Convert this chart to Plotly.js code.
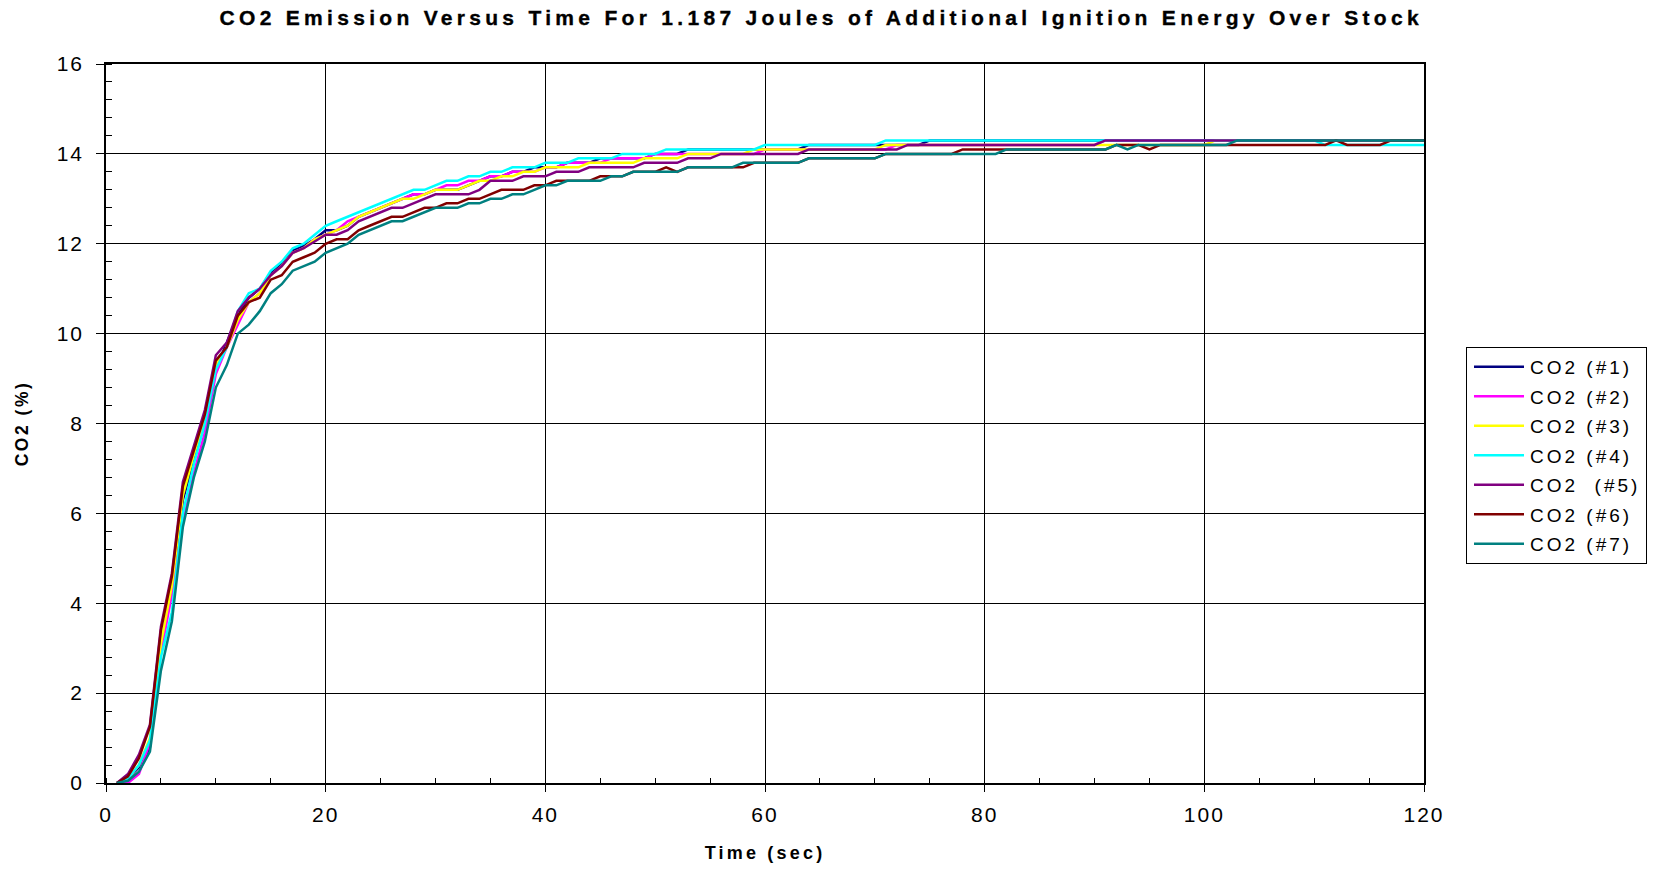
<!DOCTYPE html>
<html>
<head>
<meta charset="utf-8">
<script src="https://cdn.plot.ly/plotly-3.0.1.min.js"></script>
<style>
  html, body { margin: 0; padding: 0; background: #fff; }
  #chart { width: 1654px; height: 869px; }
  text.gtitle { letter-spacing: 4.3px; stroke: #000; stroke-width: 0.35px; }
  text.legendtext { letter-spacing: 3px; }
  text.xtitle { letter-spacing: 3.2px; }
  text.ytitle { letter-spacing: 2.5px; }
  .xtick text, .ytick text { letter-spacing: 2px; }
</style>
</head>
<body>
<div id="chart"></div>
<script>
// time in seconds (1 s sampling)
const time = Array.from({length: 120}, (_, i) => i + 1);

const seriesNames = ['CO2 (#1)', 'CO2 (#2)', 'CO2 (#3)', 'CO2 (#4)', 'CO2 \u00a0(#5)', 'CO2 (#6)', 'CO2 (#7)'];
const seriesColors = ['#000080', '#FF00FF', '#FFFF00', '#00FFFF', '#800080', '#800000', '#008080'];

const co2_1 = [
  0, 0.1, 0.35, 0.8, 3.0, 4.3, 6.3, 7.2, 8.0, 9.2,
  9.8, 10.4, 10.8, 11.0, 11.35, 11.55, 11.85, 11.95, 12.1, 12.3,
  12.3, 12.4, 12.6, 12.7, 12.8, 12.9, 13.0, 13.1, 13.1, 13.2,
  13.2, 13.2, 13.3, 13.4, 13.5, 13.5, 13.6, 13.6, 13.7, 13.7,
  13.7, 13.8, 13.8, 13.8, 13.9, 13.9, 13.9, 13.9, 13.9, 14.0,
  14.0, 14.0, 14.1, 14.1, 14.1, 14.1, 14.1, 14.1, 14.1, 14.1,
  14.1, 14.1, 14.1, 14.2, 14.2, 14.2, 14.2, 14.2, 14.2, 14.2,
  14.2, 14.2, 14.2, 14.2, 14.3, 14.3, 14.3, 14.3, 14.3, 14.3,
  14.3, 14.3, 14.3, 14.3, 14.3, 14.3, 14.3, 14.3, 14.3, 14.3,
  14.3, 14.3, 14.3, 14.3, 14.3, 14.3, 14.3, 14.3, 14.3, 14.3,
  14.3, 14.3, 14.3, 14.3, 14.3, 14.3, 14.3, 14.3, 14.3, 14.3,
  14.3, 14.3, 14.3, 14.3, 14.3, 14.3, 14.3, 14.3, 14.3, 14.3
];
const co2_2 = [
  0, 0, 0.2, 0.9, 2.9, 4.2, 5.8, 6.9, 7.8, 9.1,
  9.7, 10.2, 10.7, 10.9, 11.3, 11.5, 11.8, 11.9, 12.1, 12.2,
  12.3, 12.5, 12.6, 12.7, 12.8, 12.9, 13.0, 13.1, 13.1, 13.2,
  13.3, 13.3, 13.4, 13.4, 13.5, 13.5, 13.6, 13.6, 13.6, 13.7,
  13.7, 13.8, 13.8, 13.8, 13.8, 13.9, 13.9, 13.9, 13.9, 14.0,
  14.0, 14.0, 14.0, 14.0, 14.0, 14.0, 14.0, 14.0, 14.0, 14.1,
  14.1, 14.1, 14.1, 14.1, 14.1, 14.1, 14.1, 14.1, 14.1, 14.1,
  14.1, 14.2, 14.2, 14.2, 14.2, 14.2, 14.2, 14.2, 14.2, 14.2,
  14.2, 14.2, 14.2, 14.2, 14.2, 14.2, 14.2, 14.2, 14.2, 14.2,
  14.3, 14.3, 14.3, 14.3, 14.3, 14.3, 14.3, 14.3, 14.3, 14.3,
  14.3, 14.3, 14.3, 14.3, 14.3, 14.3, 14.3, 14.3, 14.3, 14.3,
  14.3, 14.3, 14.3, 14.3, 14.3, 14.3, 14.3, 14.3, 14.3, 14.3
];
const co2_3 = [
  0, 0.1, 0.4, 1.0, 3.1, 4.4, 6.4, 7.3, 8.1, 9.3,
  9.7, 10.3, 10.7, 10.9, 11.3, 11.5, 11.8, 11.9, 12.1, 12.2,
  12.3, 12.4, 12.6, 12.7, 12.8, 12.9, 13.0, 13.0, 13.1, 13.2,
  13.2, 13.2, 13.3, 13.4, 13.4, 13.5, 13.5, 13.6, 13.6, 13.7,
  13.7, 13.7, 13.7, 13.8, 13.8, 13.8, 13.8, 13.8, 13.9, 13.9,
  13.9, 13.9, 14.0, 14.0, 14.0, 14.0, 14.0, 14.0, 14.1, 14.1,
  14.1, 14.1, 14.1, 14.1, 14.1, 14.1, 14.1, 14.1, 14.1, 14.1,
  14.2, 14.2, 14.2, 14.2, 14.2, 14.2, 14.2, 14.2, 14.2, 14.2,
  14.2, 14.2, 14.2, 14.2, 14.2, 14.2, 14.2, 14.2, 14.2, 14.2,
  14.2, 14.2, 14.2, 14.2, 14.2, 14.2, 14.2, 14.2, 14.2, 14.2,
  14.3, 14.3, 14.3, 14.3, 14.3, 14.3, 14.3, 14.3, 14.3, 14.3,
  14.3, 14.3, 14.3, 14.3, 14.3, 14.3, 14.3, 14.3, 14.3, 14.3
];
const co2_4 = [
  0, 0.1, 0.4, 0.95, 2.8, 3.8, 6.0, 7.1, 8.0, 9.2,
  9.7, 10.5, 10.9, 11.0, 11.4, 11.6, 11.9, 12.0, 12.2, 12.4,
  12.5, 12.6, 12.7, 12.8, 12.9, 13.0, 13.1, 13.2, 13.2, 13.3,
  13.4, 13.4, 13.5, 13.5, 13.6, 13.6, 13.7, 13.7, 13.7, 13.8,
  13.8, 13.8, 13.9, 13.9, 13.9, 13.9, 14.0, 14.0, 14.0, 14.0,
  14.1, 14.1, 14.1, 14.1, 14.1, 14.1, 14.1, 14.1, 14.1, 14.2,
  14.2, 14.2, 14.2, 14.2, 14.2, 14.2, 14.2, 14.2, 14.2, 14.2,
  14.3, 14.3, 14.3, 14.3, 14.3, 14.3, 14.3, 14.3, 14.3, 14.3,
  14.3, 14.3, 14.3, 14.3, 14.3, 14.3, 14.3, 14.3, 14.3, 14.3,
  14.3, 14.3, 14.3, 14.3, 14.3, 14.3, 14.3, 14.3, 14.3, 14.3,
  14.3, 14.3, 14.3, 14.3, 14.3, 14.3, 14.3, 14.3, 14.3, 14.3,
  14.2, 14.2, 14.2, 14.2, 14.2, 14.2, 14.2, 14.2, 14.2, 14.2
];
const co2_5 = [
  0, 0.2, 0.63, 1.3, 3.48, 4.67, 6.7, 7.48, 8.3, 9.52,
  9.8, 10.5, 10.8, 11.0, 11.3, 11.5, 11.8, 11.9, 12.05, 12.2,
  12.2, 12.3, 12.5, 12.6, 12.7, 12.8, 12.8, 12.9, 13.0, 13.1,
  13.1, 13.1, 13.1, 13.2, 13.4, 13.4, 13.4, 13.5, 13.5, 13.5,
  13.6, 13.6, 13.6, 13.7, 13.7, 13.7, 13.7, 13.7, 13.8, 13.8,
  13.8, 13.8, 13.9, 13.9, 13.9, 14.0, 14.0, 14.0, 14.0, 14.0,
  14.0, 14.0, 14.0, 14.1, 14.1, 14.1, 14.1, 14.1, 14.1, 14.1,
  14.1, 14.1, 14.2, 14.2, 14.2, 14.2, 14.2, 14.2, 14.2, 14.2,
  14.2, 14.2, 14.2, 14.2, 14.2, 14.2, 14.2, 14.2, 14.2, 14.2,
  14.3, 14.3, 14.3, 14.3, 14.3, 14.3, 14.3, 14.3, 14.3, 14.3,
  14.3, 14.3, 14.3, 14.3, 14.3, 14.3, 14.3, 14.3, 14.3, 14.3,
  14.3, 14.3, 14.3, 14.3, 14.3, 14.3, 14.3, 14.3, 14.3, 14.3
];
const co2_6 = [
  0, 0.15, 0.55, 1.25, 3.4, 4.6, 6.6, 7.4, 8.2, 9.4,
  9.7, 10.4, 10.7, 10.8, 11.2, 11.3, 11.6, 11.7, 11.8, 12.0,
  12.1, 12.1, 12.3, 12.4, 12.5, 12.6, 12.6, 12.7, 12.8, 12.8,
  12.9, 12.9, 13.0, 13.0, 13.1, 13.2, 13.2, 13.2, 13.3, 13.3,
  13.4, 13.4, 13.4, 13.4, 13.5, 13.5, 13.5, 13.6, 13.6, 13.6,
  13.7, 13.6, 13.7, 13.7, 13.7, 13.7, 13.7, 13.7, 13.8, 13.8,
  13.8, 13.8, 13.8, 13.9, 13.9, 13.9, 13.9, 13.9, 13.9, 13.9,
  14.0, 14.0, 14.0, 14.0, 14.0, 14.0, 14.0, 14.1, 14.1, 14.1,
  14.1, 14.1, 14.1, 14.1, 14.1, 14.1, 14.1, 14.1, 14.1, 14.1,
  14.1, 14.2, 14.2, 14.2, 14.1, 14.2, 14.2, 14.2, 14.2, 14.2,
  14.2, 14.2, 14.2, 14.2, 14.2, 14.2, 14.2, 14.2, 14.2, 14.2,
  14.2, 14.3, 14.2, 14.2, 14.2, 14.2, 14.3, 14.3, 14.3, 14.3
];
const co2_7 = [
  0, 0.05, 0.25, 0.7, 2.5, 3.6, 5.7, 6.8, 7.6, 8.8,
  9.3, 10.0, 10.2, 10.5, 10.9, 11.1, 11.4, 11.5, 11.6, 11.8,
  11.9, 12.0, 12.2, 12.3, 12.4, 12.5, 12.5, 12.6, 12.7, 12.8,
  12.8, 12.8, 12.9, 12.9, 13.0, 13.0, 13.1, 13.1, 13.2, 13.3,
  13.3, 13.4, 13.4, 13.4, 13.4, 13.5, 13.5, 13.6, 13.6, 13.6,
  13.6, 13.6, 13.7, 13.7, 13.7, 13.7, 13.7, 13.8, 13.8, 13.8,
  13.8, 13.8, 13.8, 13.9, 13.9, 13.9, 13.9, 13.9, 13.9, 13.9,
  14.0, 14.0, 14.0, 14.0, 14.0, 14.0, 14.0, 14.0, 14.0, 14.0,
  14.0, 14.1, 14.1, 14.1, 14.1, 14.1, 14.1, 14.1, 14.1, 14.1,
  14.1, 14.2, 14.1, 14.2, 14.2, 14.2, 14.2, 14.2, 14.2, 14.2,
  14.2, 14.2, 14.3, 14.3, 14.3, 14.3, 14.3, 14.3, 14.3, 14.3,
  14.3, 14.3, 14.3, 14.3, 14.3, 14.3, 14.3, 14.3, 14.3, 14.3
];

const seriesValues = [co2_1, co2_2, co2_3, co2_4, co2_5, co2_6, co2_7];

const FONT = 'Liberation Sans, Arial, Helvetica, sans-serif';

const traces = seriesValues.map((vals, i) => ({
  type: 'scatter',
  mode: 'lines',
  x: time,
  y: vals,
  name: seriesNames[i],
  legendgroup: 'g' + i,
  line: {color: seriesColors[i], width: 2.5},
  hoverinfo: 'x+y+name'
}));

const layout = {
  width: 1654,
  height: 869,
  margin: {l: 106, r: 230, t: 64, b: 86, pad: 0},
  paper_bgcolor: '#ffffff',
  plot_bgcolor: '#ffffff',
  font: {family: FONT, color: '#000000'},
  showlegend: true,
  title: {
    text: 'CO2 Emission Versus Time For 1.187 Joules of Additional Ignition Energy Over Stock',
    font: {family: FONT, size: 21, weight: 'bold', color: '#000000'},
    xref: 'container', yref: 'container',
    x: 0.4965, y: 1 - 18 / 869,
    xanchor: 'center', yanchor: 'middle'
  },
  xaxis: {
    range: [0, 120],
    tick0: 0, dtick: 20,
    showgrid: true, gridcolor: '#000000', gridwidth: 1,
    zeroline: false,
    showline: true, linecolor: '#000000', linewidth: 1.5, mirror: true,
    ticks: 'outside', ticklen: 7, tickwidth: 1, tickcolor: '#000000',
    tickfont: {family: FONT, size: 21, color: '#000000'},
    ticklabelstandoff: 5,
    minor: {dtick: 5, ticks: 'inside', ticklen: 5, tickwidth: 1, tickcolor: '#000000', showgrid: false},
    title: {text: 'Time (sec)', font: {family: FONT, size: 18, weight: 'bold', color: '#000000'}, standoff: 21},
    automargin: false
  },
  yaxis: {
    range: [0, 16],
    tick0: 0, dtick: 2,
    showgrid: true, gridcolor: '#000000', gridwidth: 1,
    zeroline: false,
    showline: true, linecolor: '#000000', linewidth: 1.5, mirror: true,
    ticks: 'outside', ticklen: 8, tickwidth: 1, tickcolor: '#000000',
    tickfont: {family: FONT, size: 21, color: '#000000'},
    ticklabelstandoff: 8,
    minor: {dtick: 0.4, ticks: 'inside', ticklen: 6, tickwidth: 1, tickcolor: '#000000', showgrid: false},
    title: {text: 'CO2 (%)', font: {family: FONT, size: 17.5, weight: 'bold', color: '#000000'}, standoff: 24},
    automargin: false
  },
  legend: {
    x: 1466 / 1654, y: 1 - 347 / 869, xanchor: 'left', yanchor: 'top',
    xref: 'container', yref: 'container',
    bgcolor: '#ffffff', bordercolor: '#000000', borderwidth: 1,
    font: {family: FONT, size: 19, color: '#000000'},
    itemwidth: 53,
    tracegroupgap: 1.8,
    traceorder: 'grouped'
  },
  hovermode: 'closest'
};

Plotly.newPlot('chart', traces, layout, {displayModeBar: false, staticPlot: false}).then(() => {
  document.querySelectorAll('#chart .legendlines path').forEach(p => p.setAttribute('d', 'M7,0h50'));
});
</script>
</body>
</html>
